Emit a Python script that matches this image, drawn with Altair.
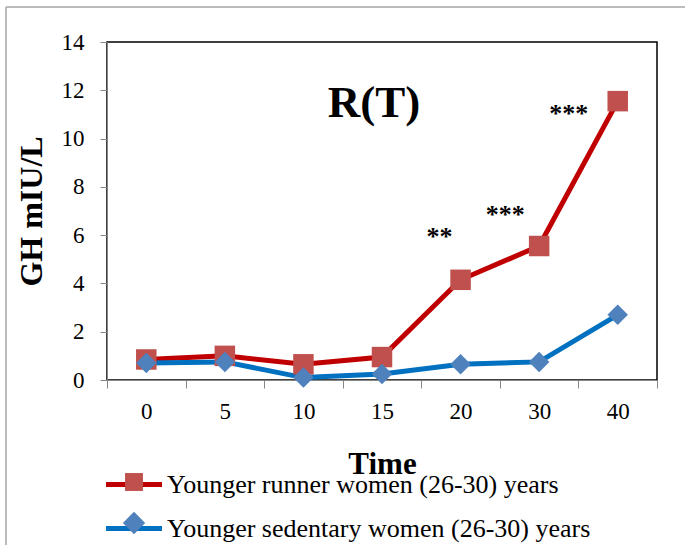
import altair as alt
import pandas as pd

# ---- data ----
times = ["0", "5", "10", "15", "20", "30", "40"]
runner = [0.85, 1.0, 0.65, 0.95, 4.15, 5.55, 11.55]
sedentary = [0.7, 0.75, 0.1, 0.25, 0.65, 0.75, 2.7]
series_names = ["Younger runner women (26-30) years",
                "Younger sedentary women (26-30) years"]
line_colors = ["#C00000", "#0070C0"]
marker_colors = ["#C0504D", "#4F81BD"]
marker_shapes = ["square", "diamond"]
legend_marker_paths = ["M-0.32,-0.32H0.32V0.32H-0.32Z",
                       "M0,-0.4L0.4,0L0,0.4L-0.4,0Z"]
y_ticks = [0, 2, 4, 6, 8, 10, 12, 14]

star_labels = ["**", "***", "***"]
star_times = ["20", "30", "40"]
star_y = [5.6, 6.5, 10.7]
star_dx = [-21, -34, -49]

panel_label = "R(T)"
panel_time = "15"
panel_y = 10.9
panel_dx = -8

FONT = "Liberation Serif"
AXIS_GRAY = "#868686"

rows = []
for t, v in zip(times, runner):
    rows.append({"time": t, "value": v, "series": series_names[0]})
for t, v in zip(times, sedentary):
    rows.append({"time": t, "value": v, "series": series_names[1]})
df = pd.DataFrame(rows)

x_scale = alt.Scale(type="band", domain=times, paddingInner=0, paddingOuter=0)
y_scale = alt.Scale(domain=[0, 14], nice=False, zero=True)

x_enc = alt.X("time:N", scale=x_scale, bandPosition=0.5,
              axis=alt.Axis(title="Time", tickBand="extent", labelAngle=0,
                            labelFont=FONT, labelFontSize=23, labelColor="black",
                            labelPadding=12, tickSize=8, tickColor=AXIS_GRAY,
                            domainColor=AXIS_GRAY, grid=False,
                            titleFont=FONT, titleFontSize=31, titleFontWeight="bold",
                            titleColor="black", titleBaseline="alphabetic", titleY=93))
y_enc = alt.Y("value:Q", scale=y_scale,
              axis=alt.Axis(title="GH mIU/L", values=y_ticks, grid=False,
                            labelFont=FONT, labelFontSize=23, labelColor="black",
                            labelPadding=16, tickSize=7, tickColor=AXIS_GRAY,
                            domainColor=AXIS_GRAY,
                            titleFont=FONT, titleFontSize=32, titleFontWeight="bold",
                            titleColor="black", titleAngle=270,
                            titleBaseline="alphabetic", titleX=-66))

base = alt.Chart(df).encode(x=x_enc, y=y_enc)

legend_common = dict(orient="none", legendY=412, padding=0,
                     title=None, symbolSize=3136, rowPadding=-8,
                     labelFont=FONT, labelFontSize=26, labelColor="black",
                     labelLimit=0, direction="vertical")

lines = base.mark_line(strokeWidth=5).encode(
    color=alt.Color("series:N",
                    scale=alt.Scale(domain=series_names, range=line_colors),
                    legend=alt.Legend(symbolType="stroke", symbolStrokeWidth=5,
                                      legendX=-3.5, labelOffset=2.5,
                                      **legend_common))
)

points = base.mark_point(filled=True, opacity=1, size=420).encode(
    color=alt.Color("series:N",
                    scale=alt.Scale(domain=series_names, range=marker_colors),
                    legend=None),
    shape=alt.Shape("series:N",
                    scale=alt.Scale(domain=series_names, range=marker_shapes),
                    legend=None),
)

leg_args = dict(legend_common)
leg_args.update(labelOpacity=0, legendX=-1, labelOffset=5, symbolStrokeWidth=0)
legend_markers = base.mark_point(filled=True, opacity=1).encode(
    color=alt.Color("series:N",
                    scale=alt.Scale(domain=series_names, range=marker_colors),
                    legend=alt.Legend(**leg_args)),
    shape=alt.Shape("series:N",
                    scale=alt.Scale(domain=series_names, range=legend_marker_paths),
                    legend=alt.Legend(**leg_args)),
).transform_filter("false")

layers = [lines, points, legend_markers]

for lab, t, yv, dx in zip(star_labels, star_times, star_y, star_dx):
    layers.append(
        alt.Chart(pd.DataFrame({"time": [t], "value": [yv], "label": [lab]}))
        .mark_text(font=FONT, fontSize=26, fontWeight="bold", color="black",
                   align="center", baseline="alphabetic", dx=dx)
        .encode(x=alt.X("time:N", scale=x_scale, bandPosition=0.5),
                y=alt.Y("value:Q", scale=y_scale), text="label:N")
    )

layers.append(
    alt.Chart(pd.DataFrame({"time": [panel_time], "value": [panel_y], "label": [panel_label]}))
    .mark_text(font=FONT, fontSize=45, fontWeight="bold", color="black",
               align="center", baseline="alphabetic", dx=panel_dx)
    .encode(x=alt.X("time:N", scale=x_scale, bandPosition=0.5),
            y=alt.Y("value:Q", scale=y_scale), text="label:N")
)

# outer frame (decoration) of the figure
frame_df = pd.DataFrame({"k": [0]})
frame_top = alt.Chart(frame_df).mark_rule(color="#A6A6A6", strokeWidth=1.5).encode(
    x=alt.value(-101), x2=alt.value(640), y=alt.value(-35))
frame_left = alt.Chart(frame_df).mark_rule(color="#A6A6A6", strokeWidth=1.5).encode(
    x=alt.value(-101), y=alt.value(-35), y2=alt.value(520))
layers += [frame_top, frame_left]

chart = alt.layer(*layers).resolve_scale(
    color="independent", shape="independent"
).properties(
    width=550, height=338,
    autosize=alt.AutoSizeParams(type="none"),
    padding={"left": 107, "top": 42, "right": 28, "bottom": 165},
    background="white",
).configure_view(stroke="black", strokeWidth=1.5)

chart.save("out.html", embed_options={"renderer": "svg", "actions": False})
